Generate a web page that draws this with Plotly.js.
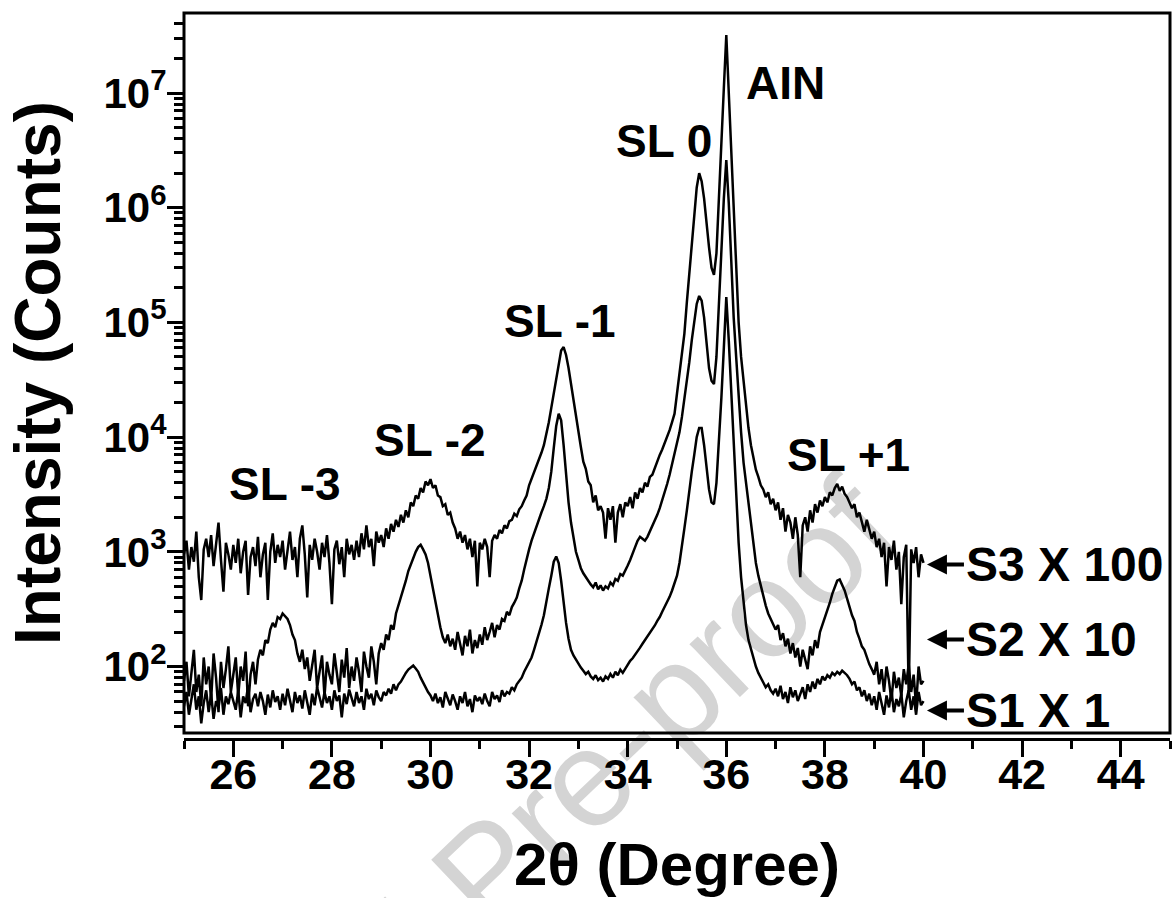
<!DOCTYPE html>
<html><head><meta charset="utf-8">
<script src="https://cdn.plot.ly/plotly-3.0.1.min.js"></script>
<style>html,body{margin:0;padding:0;background:#fff;}#chart{width:1173px;height:898px;}</style>
</head><body><div id="chart"></div>
<script>
// 2-theta scan: 25.00 .. 40.00 degrees, step 0.05
const scanStart = 25.0;
const scanStep = 0.05;

// S1 (x1)
const s1Counts = [
 45,60,38,52,70,42,55,32,48,62,
 40,58,35,50,44,65,38,55,47,60,
 50,42,62,36,55,48,68,40,52,58,
 45,60,50,38,57,44,62,49,55,42,
 58,46,64,52,40,60,48,56,43,62,
 50,38,58,46,66,52,44,60,48,55,
 42,62,50,56,36,58,47,63,52,45,
 60,48,55,42,64,52,58,46,62,54,
 50,60,56,64,58,70,62,70,74,82,
 88,94,98,102,96,90,80,72,66,60,
 56,50,58,48,54,44,60,52,46,57,
 50,42,55,48,60,45,52,40,56,50,
 54,47,58,50,45,60,52,56,49,62,
 55,60,58,66,62,70,75,80,90,100,
 108,120,140,165,190,230,280,385,480,620,
 820,910,800,560,360,240,175,140,125,115,
 105,98,92,86,90,82,78,84,76,80,
 74,82,78,86,80,90,84,94,88,96,
 105,112,118,126,135,146,158,170,182,196,
 210,228,250,270,300,330,365,405,460,540,
 620,800,1100,1600,2300,3500,5000,7000,10000,12000,
 12000,8500,5200,3500,2700,2600,4000,9000,22000,60000,
 166000,70000,25000,8000,3000,1200,600,350,230,170,
 140,115,100,88,80,72,66,70,62,58,
 64,55,68,52,60,48,66,54,62,50,
 58,66,52,70,60,74,64,78,70,82,
 76,84,80,88,84,90,86,92,88,84,
 78,70,74,62,66,55,62,50,58,46,
 55,42,60,48,38,56,44,62,40,52,
 45,58,36,50,62,42,55,38,60,46,
 50
];

// S2 (x10)
const s2Counts = [
 75,110,55,95,140,60,85,45,120,70,
 100,50,130,80,40,110,65,95,150,60,
 90,120,55,100,75,135,45,85,110,70,
 115,140,125,170,160,210,240,220,270,260,
 290,275,260,230,190,170,130,110,140,95,
 120,75,105,140,65,95,125,55,110,85,
 70,130,90,60,115,80,145,65,100,75,
 120,90,60,135,100,80,150,110,70,130,
 160,140,190,170,230,210,290,340,400,480,
 560,680,780,900,1000,1100,1150,1050,950,800,
 620,470,360,270,220,180,160,190,150,175,
 140,200,160,125,185,150,210,130,170,145,
 190,155,220,170,200,240,180,230,210,260,
 250,300,280,330,360,400,480,560,700,880,
 1050,1250,1450,1700,1950,2200,2500,2900,3600,5000,
 8000,12500,16000,14000,8500,4600,2700,1800,1300,1000,
 850,720,650,600,560,520,490,540,470,510,
 460,500,480,540,510,580,560,640,620,700,
 760,850,950,1100,1250,1350,1300,1250,1350,1500,
 1650,1850,2100,2400,2800,3300,3900,4700,5800,7000,
 8500,11000,15000,21000,30000,45000,70000,105000,145000,170000,
 155000,110000,65000,40000,31000,29000,50000,150000,450000,1200000,
 2600000,1100000,350000,110000,50000,22000,11000,6000,4000,2600,
 1700,1150,800,620,500,400,340,290,260,240,
 210,230,170,195,150,175,130,160,120,145,
 100,140,115,95,150,125,170,145,200,230,
 270,315,360,430,490,560,575,520,460,390,
 330,280,250,200,175,150,140,120,105,95,
 85,110,70,95,60,100,75,50,90,65,
 80,55,95,70,105,60,85,45,100,70,
 75
];

// S3 (x100)
const s3Counts = [
 950,1250,700,1100,820,1500,600,380,1050,1300,
 900,1400,750,1100,1800,850,450,1200,950,700,
 1150,800,1300,650,1000,1250,420,900,1100,750,
 1350,600,950,1200,380,1000,1450,800,1150,900,
 1250,700,1050,1500,850,1100,600,1300,1700,950,
 400,1150,850,1300,1000,700,1200,900,1400,800,
 350,1050,1250,780,1100,600,1300,950,1150,850,
 1250,900,1450,1050,1700,1100,1300,750,1500,1200,
 1400,1100,1600,1300,1750,1500,1900,1650,2100,1800,
 2300,2000,2700,2500,3100,2900,3600,3300,4100,3800,
 4300,3600,3800,3100,3000,2500,2600,2100,2200,1800,
 1600,1300,1500,1200,1400,1050,1300,900,1250,500,
 1200,1050,1300,1100,600,1250,1400,1300,1550,1450,
 1700,1600,1850,1900,2150,2050,2350,2500,2800,3100,
 3800,4300,4900,5600,6300,7300,8500,10500,13500,18000,
 24000,33000,45000,57000,61000,52000,40000,29000,21000,15500,
 10500,8200,6100,5300,4100,3800,2700,3100,2300,2500,
 2200,1300,2400,1900,2500,1200,2200,2600,2000,2700,
 2500,3000,2400,3300,2900,3600,3300,4000,3700,4500,
 4700,5400,6000,7000,7800,8800,10000,11500,13500,16000,
 24000,35000,50000,80000,150000,270000,450000,900000,1500000,2000000,
 1700000,1200000,700000,450000,300000,260000,400000,1100000,3500000,11000000,
 32000000,10000000,3500000,1000000,300000,100000,50000,30000,18000,12000,
 8500,6500,5200,4500,3800,3500,3000,3300,2600,2900,
 2300,2700,1900,2400,1500,2100,1800,1300,2000,1400,
 600,1700,2000,1500,2300,1800,2600,2200,2800,2500,
 3000,2700,3300,3100,3600,3900,3400,3700,3200,3000,
 2700,2400,2600,2000,2200,1800,1500,1900,1600,1300,
 1500,1100,1300,900,1200,500,1100,850,1250,700,
 1000,350,900,1150,55,1050,800,1100,600,950,
 800
];

const seriesNames = ['S1 X 1', 'S2 X 10', 'S3 X 100'];
const peakNames = ['SL -3', 'SL -2', 'SL -1', 'SL 0', 'AIN', 'SL +1'];
const yTickValues = [1e2, 1e3, 1e4, 1e5, 1e6, 1e7];
const yTickLabels = ['10<sup>2</sup>', '10<sup>3</sup>', '10<sup>4</sup>', '10<sup>5</sup>', '10<sup>6</sup>', '10<sup>7</sup>'];
const xTitle = '2θ (Degree)';
const yTitle = 'Intensity (Counts)';

const twoTheta = s1Counts.map((_, i) => +(scanStart + i * scanStep).toFixed(2));

const yMinorTicks = [];
for (let e = 1; e <= 7; e++) for (let k = 2; k <= 9; k++) yMinorTicks.push(k * Math.pow(10, e));

const FONT = 'Liberation Sans, Arial, Helvetica, sans-serif';
const lineStyle = {color: '#000', width: 2.5};
const traces = [s1Counts, s2Counts, s3Counts].map((ys, i) => ({
  type: 'scatter', mode: 'lines', x: twoTheta, y: ys, name: seriesNames[i],
  line: lineStyle, showlegend: false, hoverinfo: 'x+y'
}));

const L = Math.log10;
const peakPos = [[27.05, 3936], [29.99, 9530], [32.63, 102000], [34.74, 3780000], [37.21, 12300000], [38.47, 6918]];
const annotations = peakNames.map((t, i) => ({
  text: t, x: peakPos[i][0], y: L(peakPos[i][1]), xref: 'x', yref: 'y', showarrow: false,
  xanchor: 'center', yanchor: 'middle', font: {family: FONT, size: 46, color: '#000', weight: 'bold'}
}));
const sTips = [41.3, 172, 774];
seriesNames.forEach((t, i) => annotations.push({
  text: t, x: 40.07, y: L(sTips[i]), xref: 'x', yref: 'y', showarrow: true,
  arrowhead: 2, arrowsize: 1, arrowwidth: 4, arrowcolor: '#000', ax: 37, ay: 0,
  xanchor: 'left', yanchor: 'middle', standoff: 0,
  font: {family: FONT, size: 48, color: '#000', weight: 'bold'}
}));

const yBottom = 6 / 726;
const layout = {
  width: 1173, height: 898,
  margin: {l: 184, r: 3, t: 13, b: 159, pad: 0},
  paper_bgcolor: '#fff', plot_bgcolor: 'rgba(0,0,0,0)',
  font: {family: FONT, color: '#000', size: 42, weight: 'bold'},
  showlegend: false,
  xaxis: {
    range: [25, 45], anchor: 'free', position: 0, automargin: false,
    showgrid: false, zeroline: false, showline: true, linecolor: '#000', linewidth: 3,
    ticks: 'outside', ticklen: 16, tickwidth: 3, tickcolor: '#000',
    tick0: 0, dtick: 2, ticklabelstandoff: -20,
    minor: {ticks: 'outside', dtick: 1, tick0: 0, ticklen: 8, tickwidth: 3, tickcolor: '#000', showgrid: false},
    tickfont: {family: FONT, size: 43, color: '#000', weight: 'bold'},
    title: {text: xTitle, standoff: 50, font: {family: FONT, size: 60, color: '#000', weight: 'bold'}}
  },
  yaxis: {
    type: 'log', range: [1.4205, 7.6975], domain: [yBottom, 1], automargin: false,
    showgrid: false, zeroline: false, showline: false,
    ticks: 'outside', ticklen: 16, tickwidth: 3, tickcolor: '#000',
    tickmode: 'array', tickvals: yTickValues, ticktext: yTickLabels, ticklabelstandoff: -8,
    minor: {ticks: 'outside', tickmode: 'array', tickvals: yMinorTicks, ticklen: 9, tickwidth: 3, tickcolor: '#000', showgrid: false},
    tickfont: {family: FONT, size: 42, color: '#000', weight: 'bold'},
    title: {text: yTitle, standoff: 22, font: {family: FONT, size: 64, color: '#000', weight: 'bold'}}
  },
  shapes: [
    {type: 'rect', xref: 'paper', yref: 'paper', x0: 0, x1: 1, y0: yBottom, y1: 1,
     line: {color: '#000', width: 3}, fillcolor: 'rgba(0,0,0,0)', layer: 'above'},
    {type: 'line', xref: 'paper', yref: 'paper', x0: 0.2237, y0: -0.2658, x1: 0.3706, y1: -0.0758,
     line: {color: 'rgba(0,0,0,0)', width: 1}, layer: 'below',
     label: {text: 'Journal Pre-proof', textposition: 'middle', textangle: 'auto', xanchor: 'center', yanchor: 'middle',
             font: {family: FONT, size: 138, color: '#d4d4d4', weight: 'normal'}}}
  ],
  annotations: annotations
};

Plotly.newPlot('chart', traces, layout, {displayModeBar: false, staticPlot: true});
</script>
</body></html>
